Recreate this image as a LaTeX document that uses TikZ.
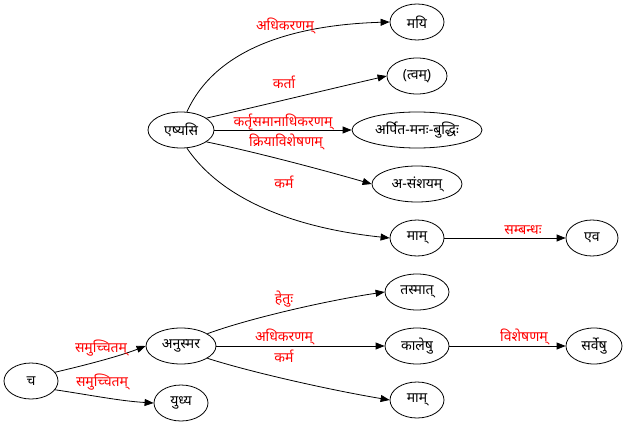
\documentclass[tikz,border=0pt]{standalone}
\usepackage{fontspec}
\setmainfont[Script=Devanagari]{Noto Sans}
\usetikzlibrary{shapes.geometric,arrows.meta}
\newcommand{\zt}[1]{\makebox[0pt]{#1}}
\begin{document}
\begin{tikzpicture}[x=1pt,y=-1pt,
  nd/.style={ellipse,draw,line width=0.8pt,inner sep=0pt,minimum height=36pt,font=\fontsize{14}{16}\selectfont},
  ed/.style={line width=0.8pt,-{Triangle[length=9pt,width=7pt]}},
  lb/.style={text=red,font=\fontsize{14}{16}\selectfont,inner sep=0pt}]
\useasboundingbox (0,0) rectangle (626,422);
% nodes
\node[nd,minimum width=66pt] (E) at (181,130) {\zt{एष्यसि}};
\node[nd,minimum width=54pt] (MY) at (417,22) {\zt{मयि}};
\node[nd,minimum width=60pt] (TV) at (417,76) {\zt{(त्वम्)}};
\node[nd,minimum width=130pt] (AR) at (417,130) {\zt{अर्पित-मनः-बुद्धिः}};
\node[nd,minimum width=90pt] (AS) at (417,184) {\zt{अ-संशयम्}};
\node[nd,minimum width=54pt] (M1) at (417,238) {\zt{माम्}};
\node[nd,minimum width=52pt] (EV) at (592,238) {\zt{एव}};
\node[nd,minimum width=64pt] (TS) at (417,292) {\zt{तस्मात्}};
\node[nd,minimum width=64pt] (KA) at (417,346) {\zt{कालेषु}};
\node[nd,minimum width=56pt] (SA) at (594,346) {\zt{सर्वेषु}};
\node[nd,minimum width=54pt] (M2) at (417,400) {\zt{माम्}};
\node[nd,minimum width=70pt] (AN) at (181,346) {\zt{अनुस्मर}};
\node[nd,minimum width=54pt] (CA) at (31,381) {\zt{च}};
\node[nd,minimum width=54pt] (YU) at (181,403) {\zt{युध्य}};
% edges
\draw[ed] (E.72) .. controls (215,50) and (290,25) .. (MY.west);
\draw[ed] (E.25) .. controls (260,106) and (330,89) .. (TV.west);
\draw[ed] (E.east) -- (AR.west);
\draw[ed] (E.-25) .. controls (260,153) and (330,172) .. (AS.west);
\draw[ed] (E.-72) .. controls (222,200) and (295,228) .. (M1.west);
\draw[ed] (M1.east) -- (EV.west);
\draw[ed] (AN.25) .. controls (250,318) and (330,300) .. (TS.west);
\draw[ed] (AN.east) -- (KA.west);
\draw[ed] (AN.-25) .. controls (250,372) and (330,390) .. (M2.west);
\draw[ed] (KA.east) -- (SA.west);
\draw[ed] (CA.20) .. controls (90,364) and (120,356) .. (AN.west);
\draw[ed] (CA.-20) .. controls (90,395) and (120,401) .. (YU.west);
% labels
\node[lb] (l1) at (285,26) {अधिकरणम्};
\node[lb] (l2) at (284,82) {कर्ता};
\node[lb] (l3) at (283,122) {कर्तृसमानाधिकरणम्};
\node[lb] (l4) at (286,142) {क्रियाविशेषणम्};
\node[lb] (l5) at (284,182) {कर्म};
\node[lb] (l6) at (523,230) {सम्बन्धः};
\node[lb] (l7) at (284,299) {हेतुः};
\node[lb] (l8) at (284,337) {अधिकरणम्};
\node[lb] (l9) at (284,356) {कर्म};
\node[lb] (l10) at (524,337) {विशेषणम्};
\node[lb] (l11) at (101,348) {समुच्चितम्};
\node[lb] (l12) at (102,382) {समुच्चितम्};
\end{tikzpicture}
\end{document}
